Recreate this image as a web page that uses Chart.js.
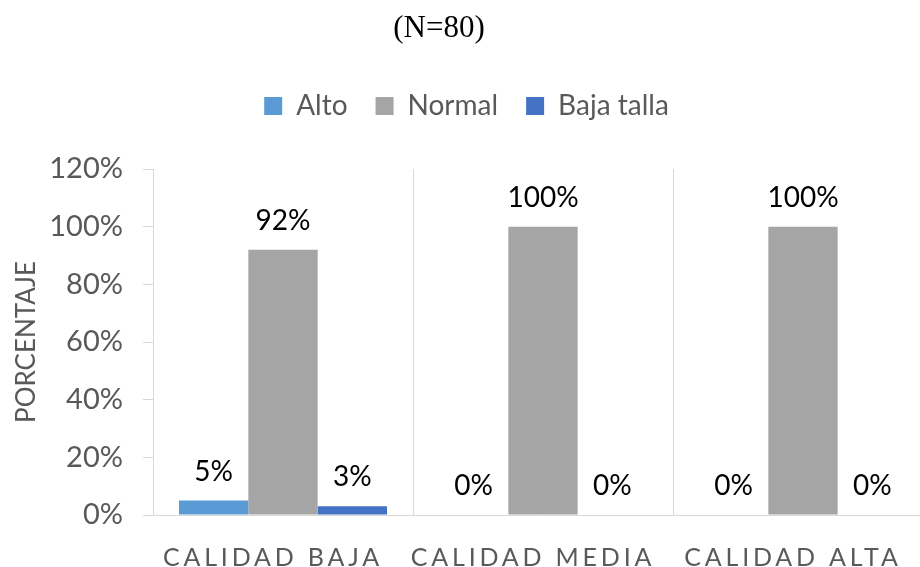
<!DOCTYPE html>
<html>
<head>
<meta charset="utf-8">
<script src="https://cdn.jsdelivr.net/npm/chart.js@4.4.1/dist/chart.umd.min.js"></script>
<style>
html,body{margin:0;padding:0;background:#fff;overflow:hidden;width:920px;height:567px;}
#wrap{position:absolute;left:0;top:0;width:935px;height:567px;}
</style>
</head>
<body>
<div id="wrap"><canvas id="c" width="935" height="567"></canvas></div>
<script>
const titleText = "(N=80)";
const categories = ["CALIDAD BAJA", "CALIDAD MEDIA", "CALIDAD ALTA"];
const seriesNames = ["Alto", "Normal", "Baja talla"];
const altoValues = [5, 0, 0];
const normalValues = [92, 100, 100];
const bajaTallaValues = [3, 0, 0];
const yTicks = [0, 20, 40, 60, 80, 100, 120];
const yTitle = "PORCENTAJE";
const colors = ["#5B9BD5", "#A5A5A5", "#4472C4"];

const FONT = "Lato";

const titlePlugin = {
  id: 'customTitle',
  afterDraw(chart) {
    const ctx = chart.ctx;
    ctx.save();
    ctx.font = "31px 'Liberation Serif'";
    ctx.fillStyle = "#000";
    ctx.textAlign = "center";
    ctx.textBaseline = "middle";
    ctx.fillText(titleText, 439, 29);
    ctx.restore();
  }
};

const dataLabelPlugin = {
  id: 'dataLabels',
  afterDatasetsDraw(chart) {
    const ctx = chart.ctx;
    ctx.save();
    ctx.font = "28px " + FONT;
    ctx.fillStyle = "#000";
    ctx.textAlign = "center";
    ctx.textBaseline = "middle";
    chart.data.datasets.forEach((ds, i) => {
      const meta = chart.getDatasetMeta(i);
      meta.data.forEach((bar, j) => {
        ctx.fillText(ds.data[j] + "%", bar.x, bar.y - 29);
      });
    });
    ctx.restore();
  }
};

const xLabelPlugin = {
  id: 'xLabels',
  afterDraw(chart) {
    const ctx = chart.ctx;
    const sc = chart.scales.x;
    ctx.save();
    ctx.font = "25px " + FONT;
    ctx.fillStyle = "#595959";
    ctx.textAlign = "center";
    ctx.textBaseline = "middle";
    try { ctx.letterSpacing = "3.8px"; } catch(e) {}
    categories.forEach((c, i) => {
      ctx.fillText(c, sc.getPixelForValue(i) - 10, 558);
    });
    ctx.restore();
  }
};

new Chart(document.getElementById('c'), {
  type: 'bar',
  data: {
    labels: categories,
    datasets: [
      { label: seriesNames[0], data: altoValues, backgroundColor: colors[0] },
      { label: seriesNames[1], data: normalValues, backgroundColor: colors[1] },
      { label: seriesNames[2], data: bajaTallaValues, backgroundColor: colors[2] }
    ]
  },
  options: {
    responsive: false,
    animation: false,
    devicePixelRatio: 1,
    layout: { padding: { top: 64, left: 0, right: 2, bottom: 0 } },
    datasets: { bar: { categoryPercentage: 0.8, barPercentage: 1.0 } },
    plugins: {
      title: { display: false },
      subtitle: {
        display: true,
        text: ' ',
        weight: 500,
        position: 'top',
        font: { size: 10 },
        padding: { top: 0, bottom: 27 }
      },
      tooltip: { enabled: false },
      legend: {
        display: true,
        position: 'top',
        labels: {
          font: { family: FONT, size: 28 },
          color: "#595959",
          boxWidth: 18,
          boxHeight: 18,
          padding: 28
        }
      }
    },
    scales: {
      x: {
        grid: { offset: true, drawOnChartArea: true, drawTicks: false, color: "#D9D9D9", lineWidth: 1 },
        border: { display: true, color: "#D9D9D9", width: 1 },
        ticks: { color: "rgba(0,0,0,0)", font: { family: FONT, size: 22 }, padding: 20 },
        afterFit(scale) { scale.height = 52; }
      },
      y: {
        min: 0,
        max: 120,
        afterBuildTicks(scale) { scale.ticks = yTicks.map(v => ({ value: v })); },
        grid: { drawOnChartArea: false, drawTicks: true, tickLength: 10, color: "#D9D9D9" },
        border: { display: true, color: "#D9D9D9", width: 1 },
        ticks: {
          color: "#595959",
          font: { family: FONT, size: 29 },
          padding: 20,
          callback: (v) => v + "%"
        },
        title: {
          display: true,
          text: yTitle,
          color: "#595959",
          font: { family: FONT, size: 26 },
          padding: { top: 11, bottom: 4 }
        },
        afterFit(scale) { scale.width = 153; }
      }
    }
  },
  plugins: [titlePlugin, dataLabelPlugin, xLabelPlugin]
});
</script>
</body>
</html>
